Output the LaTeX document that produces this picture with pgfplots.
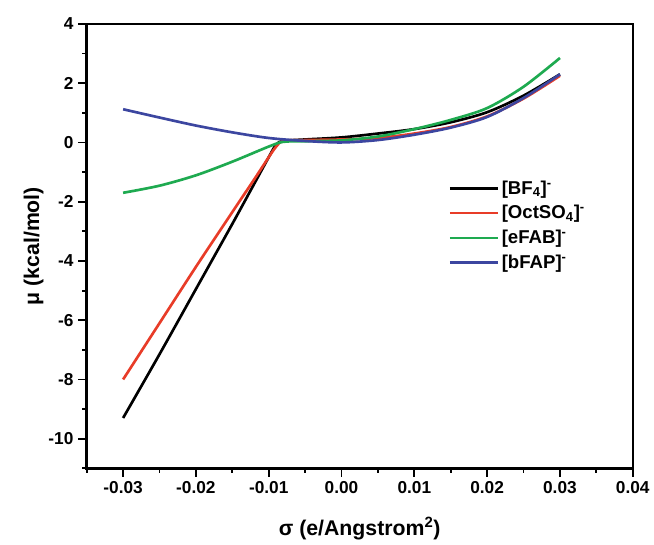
\documentclass[border=0pt]{standalone}
\usepackage{fontspec}
\setmainfont{Liberation Sans}
\usepackage{pgfplots}
\pgfplotsset{compat=1.18}

\definecolor{cRed}{RGB}{232,60,40}
\definecolor{cGreen}{RGB}{30,170,80}
\definecolor{cBlue}{RGB}{60,70,160}

\begin{document}
\begin{tikzpicture}
  \begin{axis}[
    width=411pt, height=334.5pt, scale only axis,
    xmin=-0.035, xmax=0.04, ymin=-11, ymax=4,
    xtick={-0.03,-0.02,-0.01,0,0.01,0.02,0.03,0.04},
    minor xtick={-0.035,-0.025,-0.015,-0.005,0.005,0.015,0.025,0.035},
    ytick={-10,-8,-6,-4,-2,0,2,4},
    minor ytick={-11,-9,-7,-5,-3,-1,1,3},
    scaled x ticks=false,
    xticklabel style={/pgf/number format/.cd, fixed, fixed zerofill, precision=2},
    /pgf/number format/assume math mode=true,
    tick label style={font=\bfseries\fontsize{13}{15}\selectfont},
    label style={font=\bfseries\fontsize{16}{18}\selectfont},
    tick align=outside, xtick pos=bottom, ytick pos=left,
    major tick length=6.5pt, minor tick length=3.2pt,
    every tick/.style={black, line width=1.4pt},
    axis line style={line width=1.8pt},
    xlabel={σ (e/Angstrom\textsuperscript{2})},
    ylabel={μ (kcal/mol)},
    xlabel style={at={(axis description cs:0.5,-0.135)}, anchor=center},
    ylabel style={at={(axis description cs:-0.097,0.5)}, anchor=center},
    legend style={draw=none, fill=none, at={(0.655,0.66)}, anchor=north west,
      font=\bfseries\fontsize{14}{16}\selectfont, row sep=3pt},
    legend cell align=left,
    legend image code/.code={\draw[#1, line width=2pt] (0pt,0pt) -- (36pt,0pt);},
    every axis plot/.append style={line width=2pt, smooth},
  ]
    \addplot[black] coordinates {
      (-0.03,-9.3) (-0.025,-7.15) (-0.02,-4.95) (-0.015,-2.75) (-0.012,-1.4)
      (-0.01,-0.5) (-0.009,-0.08) (-0.008,0.05) (-0.005,0.1) (0,0.17)
      (0.005,0.3) (0.01,0.45) (0.015,0.68) (0.02,1.02) (0.025,1.58) (0.03,2.3)
    };
    \addlegendentry{[BF\textsubscript{4}]\textsuperscript{-}}
    \addplot[cRed] coordinates {
      (-0.03,-8.0) (-0.025,-6.1) (-0.02,-4.2) (-0.015,-2.35) (-0.012,-1.25)
      (-0.01,-0.5) (-0.009,-0.15) (-0.008,0.05) (-0.005,0.08) (0,0.1)
      (0.005,0.15) (0.01,0.3) (0.015,0.52) (0.02,0.88) (0.025,1.48) (0.03,2.25)
    };
    \addlegendentry{[OctSO\textsubscript{4}]\textsuperscript{-}}
    \addplot[cGreen] coordinates {
      (-0.03,-1.7) (-0.025,-1.46) (-0.02,-1.11) (-0.015,-0.65) (-0.01,-0.14)
      (-0.008,0.02) (-0.005,0.04) (0,0.07) (0.005,0.2) (0.01,0.45)
      (0.015,0.76) (0.02,1.16) (0.025,1.88) (0.03,2.85)
    };
    \addlegendentry{[eFAB]\textsuperscript{-}}
    \addplot[cBlue] coordinates {
      (-0.03,1.12) (-0.025,0.84) (-0.02,0.57) (-0.015,0.34) (-0.01,0.15)
      (-0.005,0.05) (0,0.0) (0.005,0.08) (0.01,0.26) (0.015,0.5)
      (0.02,0.86) (0.025,1.5) (0.03,2.3)
    };
    \addlegendentry{[bFAP]\textsuperscript{-}}
  \end{axis}
  \draw[line width=1.8pt, black] (current axis.south west) rectangle (current axis.north east);
  \path ([shift={(-65.25pt,-55pt)}]current axis.south west)
    rectangle ([shift={(14.25pt,18pt)}]current axis.north east);
\end{tikzpicture}
\end{document}
